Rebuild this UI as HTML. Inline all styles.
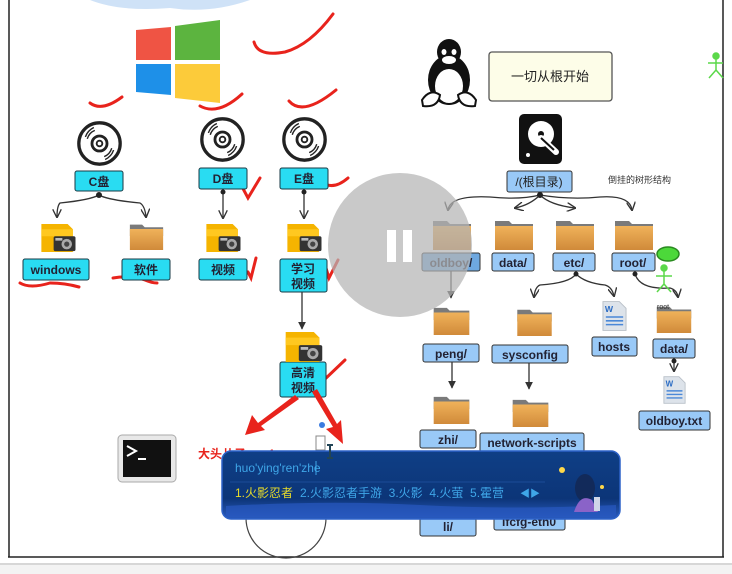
<!DOCTYPE html>
<html><head><meta charset="utf-8">
<style>
html,body{margin:0;padding:0;background:#fff;}
svg{display:block;}
text{font-family:"Liberation Sans","Noto Sans CJK SC",sans-serif;}
</style></head>
<body>
<svg width="732" height="574" viewBox="0 0 732 574" xmlns="http://www.w3.org/2000/svg">
<defs>
<linearGradient id="fo" x1="0" y1="0" x2="0" y2="1"><stop offset="0" stop-color="#f0b25a"/><stop offset="1" stop-color="#d08a3a"/></linearGradient>
<linearGradient id="ime" x1="0" y1="0" x2="0" y2="1"><stop offset="0" stop-color="#0f3f86"/><stop offset="0.7" stop-color="#0c3578"/><stop offset="1" stop-color="#2a5bc0"/></linearGradient>
<symbol id="gf" viewBox="0 0 40 32"><path d="M1 3h14l3 3h21v10H1z" fill="#7a7a7a"/><rect x="1" y="8" width="38" height="24" fill="url(#fo)"/></symbol>
<symbol id="cf" viewBox="0 0 40 32"><path d="M1 0h30l6 6v26H1z" fill="#f5b400"/><rect x="1" y="6" width="36" height="8" fill="#ffc820"/><rect x="15" y="14" width="25" height="17" rx="2" fill="#333"/><circle cx="30" cy="23" r="6" fill="#aaa"/><circle cx="30" cy="23" r="3" fill="#444"/><rect x="17" y="16" width="8" height="3" fill="#bbb"/></symbol>
<symbol id="disc" viewBox="0 0 50 50"><circle cx="25" cy="25" r="22" fill="#fff" stroke="#222" stroke-width="3.5"/><circle cx="25" cy="25" r="8" fill="none" stroke="#222" stroke-width="3"/><circle cx="25" cy="25" r="3" fill="none" stroke="#222" stroke-width="2"/><path d="M12 20a14 14 0 0 1 8-9M10 18a17 17 0 0 1 9-10M38 30a14 14 0 0 1-8 9M40 32a17 17 0 0 1-9 10" stroke="#222" stroke-width="1.5" fill="none"/></symbol>
<symbol id="doc" viewBox="0 0 26 32"><path d="M1 1h17l7 7v23H1z" fill="#dde3ea" stroke="#b9c0c8"/><text x="3" y="12" font-size="9" fill="#2b6cc4" font-weight="bold">W</text><path d="M4 17h18M4 21h18M4 25h18" stroke="#4a88d8" stroke-width="1.6"/></symbol>
<marker id="ah" viewBox="0 0 10 10" refX="9" refY="5" markerWidth="7" markerHeight="7" orient="auto"><path d="M0 0L10 5L0 10" fill="none" stroke="#333" stroke-width="1.5"/></marker>
<marker id="af" viewBox="0 0 10 10" refX="9" refY="5" markerWidth="6" markerHeight="6" orient="auto"><path d="M0 0L10 5L0 10z" fill="#333"/></marker>
</defs>

<rect x="0" y="0" width="732" height="574" fill="#fff"/>
<path d="M90 0 Q120 12 170 8 Q210 14 250 0Z" fill="#cfe2f7"/>
<line x1="9" y1="0" x2="9" y2="557" stroke="#222" stroke-width="1.5"/>
<line x1="723" y1="0" x2="723" y2="557" stroke="#222" stroke-width="1.5"/>
<line x1="8" y1="557" x2="724" y2="557" stroke="#222" stroke-width="1.5"/>
<rect x="0" y="563" width="732" height="11" fill="#f3f3f3"/>
<line x1="0" y1="564" x2="732" y2="564" stroke="#bbb"/>

<path d="M136 30L171 27V60H136Z" fill="#ef5444"/>
<path d="M175 26L220 20V60H175Z" fill="#5cb43f"/>
<path d="M136 64H171V95L136 92Z" fill="#1e90e8"/>
<path d="M175 64H220V103L175 98Z" fill="#fccb3a"/>

<g stroke="#e8231c" stroke-width="3" fill="none" stroke-linecap="round">
<path d="M254 42Q258 57 285 52Q310 45 333 14"/>
<path d="M90 103Q102 112 122 97"/>
<path d="M200 106Q218 116 242 94"/>
<path d="M289 101Q303 117 336 90"/>
<path d="M240 183L248 198L260 178"/>
<path d="M323 183Q334 190 348 178"/>
<path d="M20 283Q30 289 50 283Q65 283 79 287"/>
<path d="M113 278Q130 275 145 280Q152 283 157 283"/>
<path d="M248 272L251 278L256 258"/>
<path d="M326 268L329 278L338 260"/>
<path d="M318 372L323 381L345 360"/>
</g>

<use href="#disc" x="76" y="120" width="47" height="47"/>
<use href="#disc" x="199" y="116" width="47" height="47"/>
<use href="#disc" x="281" y="116" width="47" height="47"/>

<g fill="#29dcf2" stroke="#1a3a44" stroke-width="1">
<rect x="75" y="171" width="48" height="20" rx="2"/>
<rect x="199" y="168" width="48" height="21" rx="2"/>
<rect x="280" y="168" width="48" height="21" rx="2"/>
<rect x="23" y="259" width="66" height="21" rx="2"/>
<rect x="122" y="259" width="48" height="21" rx="2"/>
<rect x="199" y="259" width="48" height="21" rx="2"/>
<rect x="280" y="259" width="47" height="33" rx="2"/>
<rect x="280" y="362" width="46" height="35" rx="2"/>
</g>
<g font-size="12" font-weight="bold" fill="#223" text-anchor="middle">
<text x="99" y="186">C盘</text>
<text x="223" y="183">D盘</text>
<text x="304" y="183">E盘</text>
<text x="56" y="274">windows</text>
<text x="146" y="274">软件</text>
<text x="223" y="274">视频</text>
<text x="303" y="273">学习</text>
<text x="303" y="288">视频</text>
<text x="303" y="377">高清</text>
<text x="303" y="392">视频</text>
</g>

<g stroke="#333" stroke-width="1.3" fill="none">
<path d="M99 195Q90 200 60 203Q57 206 57 217" marker-end="url(#ah)"/>
<path d="M99 195Q108 200 140 203Q145 206 146 217" marker-end="url(#ah)"/>
<line x1="223" y1="192" x2="223" y2="218" marker-end="url(#ah)"/>
<line x1="304" y1="192" x2="304" y2="218" marker-end="url(#ah)"/>
<line x1="302" y1="292" x2="302" y2="329" marker-end="url(#af)"/>
</g>
<circle cx="99" cy="195" r="3" fill="#222"/><circle cx="223" cy="192" r="2.5" fill="#222"/><circle cx="304" cy="192" r="2.5" fill="#222"/>

<use href="#cf" x="38" y="224" width="40" height="28"/>
<use href="#gf" x="127" y="222" width="39" height="28"/>
<use href="#cf" x="203" y="224" width="40" height="28"/>
<use href="#cf" x="284" y="224" width="40" height="28"/>
<use href="#cf" x="283" y="332" width="41" height="30"/>

<g>
<ellipse cx="449" cy="80" rx="21" ry="25" fill="#111"/>
<ellipse cx="449" cy="52" rx="12" ry="13" fill="#111"/>
<ellipse cx="449" cy="86" rx="14" ry="17" fill="#fff"/>
<ellipse cx="449" cy="60" rx="7" ry="4" fill="#fff"/>
<ellipse cx="444" cy="52" rx="2.5" ry="3" fill="#fff"/><ellipse cx="454" cy="52" rx="2.5" ry="3" fill="#fff"/>
<path d="M422 100Q430 88 440 95Q438 108 423 106Z" fill="#fff" stroke="#111" stroke-width="2"/>
<path d="M476 100Q468 88 458 95Q460 108 475 106Z" fill="#fff" stroke="#111" stroke-width="2"/>
</g>
<rect x="489" y="52" width="123" height="49" rx="3" fill="#fdfde8" stroke="#555" stroke-width="1.3"/>
<text x="550" y="81" font-size="13" text-anchor="middle" fill="#222">一切从根开始</text>

<rect x="519" y="114" width="43" height="50" rx="5" fill="#111"/>
<circle cx="541" cy="134" r="13" fill="#fff"/>
<circle cx="541" cy="134" r="3" fill="#111"/>
<path d="M541 138L556 152" stroke="#fff" stroke-width="6" stroke-linecap="round"/>
<path d="M541 138L554 150" stroke="#111" stroke-width="2"/>
<circle cx="528" cy="155" r="2" fill="#fff"/>

<rect x="507" y="171" width="65" height="21" rx="2" fill="#99c9f7" stroke="#333"/>
<text x="539" y="186" font-size="12" text-anchor="middle" fill="#222">/(根目录)</text>
<text x="608" y="183" font-size="9" fill="#333">倒挂的树形结构</text>

<g stroke="#333" stroke-width="1.3" fill="none">
<path d="M540 195Q520 200 490 197Q450 195 448 210" marker-end="url(#ah)"/>
<path d="M540 195Q530 205 515 208" marker-end="url(#ah)"/>
<path d="M540 195Q550 205 575 208" marker-end="url(#ah)"/>
<path d="M540 195Q570 200 600 197Q630 195 632 210" marker-end="url(#ah)"/>
<line x1="451" y1="271" x2="451" y2="298" marker-end="url(#af)"/>
<path d="M576 274Q570 283 540 285Q535 287 534 297" marker-end="url(#ah)"/>
<path d="M576 274Q585 283 605 285Q612 287 614 296" marker-end="url(#ah)"/>
<path d="M635 274Q640 290 670 288Q677 290 678 297" marker-end="url(#ah)"/>
<line x1="452" y1="362" x2="452" y2="388" marker-end="url(#af)"/>
<line x1="529" y1="363" x2="529" y2="389" marker-end="url(#af)"/>
<line x1="674" y1="361" x2="674" y2="371" marker-end="url(#ah)"/>
</g>
<circle cx="540" cy="195" r="3" fill="#222"/><circle cx="576" cy="274" r="2.5" fill="#222"/><circle cx="635" cy="274" r="2.5" fill="#222"/><circle cx="674" cy="361" r="2.5" fill="#222"/>

<use href="#gf" x="432" y="218" width="40" height="32"/>
<use href="#gf" x="494" y="218" width="40" height="32"/>
<use href="#gf" x="555" y="218" width="40" height="32"/>
<use href="#gf" x="614" y="218" width="40" height="32"/>
<use href="#gf" x="432" y="305" width="39" height="30"/>
<use href="#gf" x="514" y="307" width="41" height="29"/>
<use href="#doc" x="602" y="300" width="25" height="32"/>
<use href="#gf" x="654" y="304" width="40" height="29"/>
<use href="#doc" x="663" y="374" width="23" height="32"/>
<use href="#gf" x="432" y="394" width="39" height="30"/>
<use href="#gf" x="511" y="397" width="39" height="30"/>
<text x="657" y="309" font-size="7" fill="#333">root</text>

<g fill="#99c9f7" stroke="#333" stroke-width="1">
<rect x="422" y="253" width="58" height="18" rx="2" fill="#6ea8e0"/>
<rect x="492" y="253" width="42" height="18" rx="2"/>
<rect x="553" y="253" width="42" height="18" rx="2"/>
<rect x="612" y="253" width="43" height="18" rx="2"/>
<rect x="423" y="344" width="56" height="18" rx="2"/>
<rect x="492" y="345" width="76" height="18" rx="2"/>
<rect x="592" y="337" width="45" height="19" rx="2"/>
<rect x="653" y="339" width="42" height="19" rx="2"/>
<rect x="639" y="411" width="71" height="19" rx="2"/>
<rect x="420" y="430" width="56" height="18" rx="2"/>
<rect x="480" y="433" width="104" height="19" rx="2"/>
<rect x="420" y="518" width="56" height="18" rx="2"/>
<rect x="494" y="512" width="71" height="18" rx="2"/>
</g>
<g font-size="12" font-weight="bold" fill="#223" text-anchor="middle">
<text x="451" y="267">oldboy/</text>
<text x="513" y="267">data/</text>
<text x="574" y="267">etc/</text>
<text x="633" y="267">root/</text>
<text x="451" y="358">peng/</text>
<text x="530" y="359">sysconfig</text>
<text x="614" y="351">hosts</text>
<text x="674" y="353">data/</text>
<text x="674" y="425">oldboy.txt</text>
<text x="448" y="444">zhi/</text>
<text x="532" y="447">network-scripts</text>
<text x="448" y="531">li/</text>
<text x="529" y="526">ifcfg-eth0</text>
</g>

<g stroke="#5bd84a" stroke-width="1.5" fill="none">
<ellipse cx="668" cy="254" rx="11" ry="7" fill="#4cd83a" stroke="#2a8a20"/>
<circle cx="664" cy="268" r="3" fill="#5bd84a"/>
<path d="M664 271V284M656 276H672M664 284L657 292M664 284L671 292"/>
<circle cx="716" cy="56" r="3" fill="#5bd84a"/>
<path d="M716 59V70M708 63H723M716 70L709 78M716 70L723 78"/>
</g>

<!-- pause overlay (translucent) -->
<circle cx="400" cy="245" r="72" fill="#b4b4b4" opacity="0.72"/>
<rect x="387" y="230" width="9" height="32" fill="#fff"/>
<rect x="403" y="230" width="9" height="32" fill="#fff"/>

<rect x="118" y="435" width="58" height="47" rx="4" fill="#e8e8e8" stroke="#aaa"/>
<rect x="123" y="440" width="48" height="37" fill="#111"/>
<path d="M127 446L136 451L127 456" stroke="#fff" stroke-width="2" fill="none"/>
<path d="M138 459H146" stroke="#fff" stroke-width="2"/>

<g fill="#e8231c">
<path d="M295 395L258 423L252 415L245 435L265 430L261 426L299 399Z"/>
<path d="M312 392L333 427L326 429L343 444L341 420L337 424L317 389Z"/>
</g>
<text x="198" y="458" font-size="12" font-weight="bold" fill="#e8231c">大头儿子.mp4</text>
<circle cx="322" cy="425" r="3" fill="#3b7be0"/>
<rect x="316" y="436" width="9" height="14" fill="#fff" stroke="#888"/>

<circle cx="286" cy="518" r="40" fill="none" stroke="#444" stroke-width="1.2"/>
<rect x="264" y="512" width="44" height="6" fill="#fff" stroke="#555"/>

<rect x="222" y="451" width="398" height="68" rx="9" fill="url(#ime)" stroke="#2d62c8" stroke-width="1.5"/>
<path d="M226 506Q330 500 420 505T616 505V514Q616 517 612 517H230Q226 517 226 514Z" fill="#2858c0" opacity="0.7"/>
<text x="235" y="472" font-size="12" fill="#3fa6e8">huo'ying'ren'zhe</text>
<line x1="316" y1="461" x2="316" y2="475" stroke="#3fa6e8"/>
<line x1="230" y1="482" x2="545" y2="482" stroke="#1c4c98"/>
<text x="235" y="497" font-size="12" fill="#e8dc2a">1.火影忍者</text>
<text x="300" y="497" font-size="12" fill="#3fa6e8" xml:space="preserve">2.火影忍者手游  3.火影  4.火萤  5.霍营</text>
<text x="520" y="497" font-size="10" fill="#3fa6e8">◀▶</text>
<circle cx="562" cy="470" r="3" fill="#ffd84a"/>
<circle cx="602" cy="487" r="2" fill="#ffd84a"/>
<ellipse cx="585" cy="488" rx="10" ry="14" fill="#122a5a"/>
<path d="M574 512Q580 493 592 500L598 512Z" fill="#8a63c8"/>
<rect x="594" y="497" width="6" height="14" fill="#cfd6e8"/>
<path d="M330 445V458M327 445H333M327 458H333" stroke="#245" stroke-width="2"/>
</svg>
</body></html>
